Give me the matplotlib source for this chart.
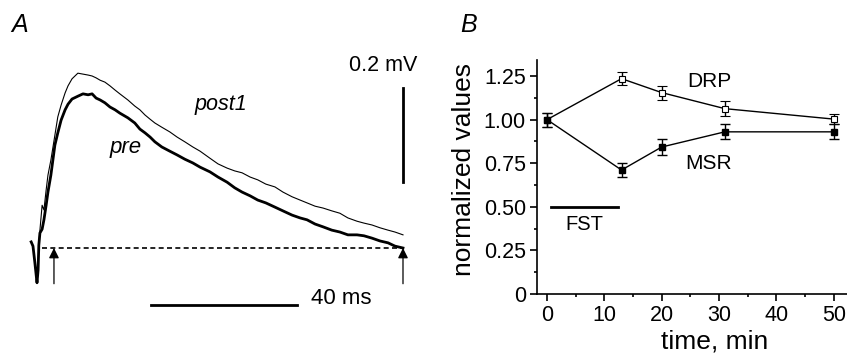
import numpy as np
import matplotlib
matplotlib.use("Agg")
import matplotlib.pyplot as plt

plt.rcParams['font.family'] = ['Liberation Sans', 'DejaVu Sans']

# Panel A: averaged traces (time in ms, amplitude in mV)
t_ms = [-0.5, 0.0, 0.5, 1.1, 1.4, 1.6, 1.9, 2.5, 3.0, 3.6, 4.1, 4.9, 6.0, 6.8,
        7.7, 8.8, 9.6, 10.7, 12.3, 13.7, 15.1, 16.2, 17.3, 18.4, 19.7, 21.1,
        22.5, 23.8, 26.0, 27.9, 29.3, 30.7, 32.1, 33.4, 35.3, 37.5, 39.5, 41.6,
        43.8, 45.8, 48.5, 50.7, 53.2, 55.3, 57.3, 59.5, 61.6, 63.8, 66.3, 68.5,
        71.0, 73.2, 75.1, 77.3, 79.5, 81.9, 84.1, 86.3, 88.8, 90.7, 92.9, 95.1,
        97.3, 99.2, 101.4]
pre_mv = [0.013, 0.004, -0.030, -0.074, -0.047, 0.006, 0.032, 0.040, 0.060,
          0.091, 0.119, 0.155, 0.219, 0.245, 0.272, 0.294, 0.306, 0.317, 0.323,
          0.328, 0.326, 0.328, 0.319, 0.315, 0.309, 0.300, 0.294, 0.287, 0.277,
          0.266, 0.253, 0.245, 0.236, 0.226, 0.215, 0.206, 0.198, 0.189, 0.181,
          0.172, 0.162, 0.151, 0.140, 0.128, 0.119, 0.111, 0.102, 0.096, 0.087,
          0.079, 0.070, 0.064, 0.060, 0.051, 0.045, 0.038, 0.034, 0.028, 0.028,
          0.026, 0.021, 0.015, 0.011, 0.004, 0.000]
post1_mv = [0.013, 0.004, -0.030, -0.074, -0.043, 0.006, 0.038, 0.091, 0.081,
            0.123, 0.155, 0.187, 0.240, 0.279, 0.304, 0.330, 0.345, 0.360, 0.372,
            0.370, 0.368, 0.366, 0.362, 0.357, 0.353, 0.345, 0.336, 0.328, 0.315,
            0.302, 0.294, 0.283, 0.274, 0.266, 0.257, 0.247, 0.236, 0.226, 0.215,
            0.206, 0.191, 0.179, 0.170, 0.164, 0.160, 0.151, 0.145, 0.136, 0.130,
            0.119, 0.109, 0.102, 0.096, 0.089, 0.085, 0.079, 0.074, 0.064, 0.057,
            0.053, 0.049, 0.043, 0.038, 0.034, 0.028]
arrow_ms = [5.75, 101.4]

# Panel B: normalized values vs time
time_min = [0, 13, 20, 31, 50]
drp = [1.00, 1.235, 1.155, 1.063, 1.003]
drp_err = [0.04, 0.038, 0.04, 0.045, 0.03]
msr = [1.00, 0.711, 0.843, 0.93, 0.93]
msr_err = [0.04, 0.04, 0.046, 0.043, 0.043]
fst_span = [0.7, 12.4]

fig = plt.figure(figsize=(8.47, 3.53), dpi=100)

# ---- panel A ----
axa = fig.add_axes([0, 0, 430 / 847, 1])
axa.set_xlim(-9.04, 108.8)
axa.set_ylim(-0.2234, 0.5277)
axa.axis('off')

axa.plot(t_ms, post1_mv, color='k', lw=0.8)
axa.plot(t_ms, pre_mv, color='k', lw=2.0)
axa.plot([2.5, 101.4], [0, 0], color='k', lw=1.2, ls=(0, (3, 2)))
for t in arrow_ms:
    axa.annotate('', xy=(t, 0), xytext=(t, -0.076),
                 arrowprops=dict(arrowstyle='-|>', color='k', lw=0.9,
                                 mutation_scale=15, shrinkA=0, shrinkB=0))

# scale bars
axa.plot([101.4, 101.4], [0.140, 0.340], color='k', lw=2)
axa.plot([32.3, 72.3], [-0.121, -0.121], color='k', lw=2)
axa.text(95.9, 0.389, '0.2 mV', fontsize=15.5, ha='center', va='center')
axa.text(76.3, -0.107, '40 ms', fontsize=16, ha='left', va='center')
axa.text(51.5, 0.306, 'post1', fontsize=15.5, style='italic', ha='center', va='center')
axa.text(25.5, 0.213, 'pre', fontsize=16, style='italic', ha='center', va='center')
fig.text(20 / 847, 1 - 25 / 353, 'A', fontsize=18, style='italic', ha='center', va='center')

# ---- panel B ----
axb = fig.add_axes([537 / 847, 59 / 353, 310 / 847, 234 / 353])
axb.set_xlim(-1.74, 52.3)
axb.set_ylim(0, 1.342)
for s in ['top', 'right']:
    axb.spines[s].set_visible(False)
for s in ['left', 'bottom']:
    axb.spines[s].set_linewidth(1.2)

axb.errorbar(time_min, drp, yerr=drp_err, color='k', lw=1, marker='s', ms=5,
             mfc='white', mec='k', mew=0.8, capsize=3.5, elinewidth=1, capthick=1)
axb.errorbar(time_min, msr, yerr=msr_err, color='k', lw=1, marker='s', ms=5,
             mfc='k', mec='k', capsize=3.5, elinewidth=1, capthick=1)
axb.plot(fst_span, [0.5, 0.5], color='k', lw=2)
axb.text(np.mean(fst_span), 0.396, 'FST', fontsize=14.5, ha='center', va='center')
axb.text(28.3, 1.217, 'DRP', fontsize=15, ha='center', va='center')
axb.text(28.2, 0.749, 'MSR', fontsize=15, ha='center', va='center')

axb.set_xticks([0, 10, 20, 30, 40, 50])
axb.set_xticks([5, 15, 25, 35, 45], minor=True)
axb.set_yticks([0, 0.25, 0.5, 0.75, 1.0, 1.25])
axb.set_yticklabels(['0', '0.25', '0.50', '0.75', '1.00', '1.25'])
axb.set_yticks([0.125, 0.375, 0.625, 0.875, 1.125], minor=True)
axb.tick_params(which='major', direction='out', length=5, width=1.2,
                labelsize=15.5, pad=3)
axb.tick_params(which='minor', direction='out', length=2.5, width=1.2)

fig.text(464 / 847, 1 - 170 / 353, 'normalized values', fontsize=19,
         rotation=90, ha='center', va='center')
fig.text(715 / 847, 4 / 353, 'time, min', fontsize=19, ha='center', va='baseline')
fig.text(469 / 847, 1 - 25 / 353, 'B', fontsize=18, style='italic', ha='center', va='center')

fig.savefig('out.png', dpi=100)
